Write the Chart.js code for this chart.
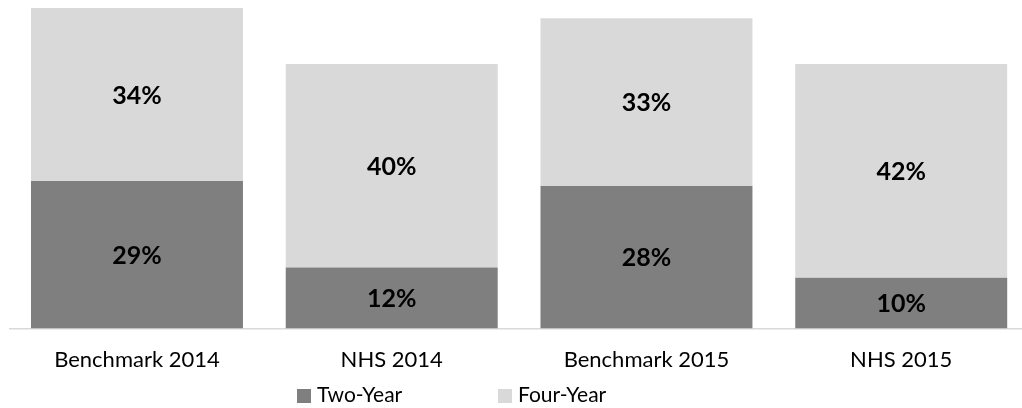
<!DOCTYPE html>
<html>
<head>
<meta charset="utf-8">
<script src="https://cdn.jsdelivr.net/npm/chart.js@4.4.1/dist/chart.umd.min.js"></script>
<style>
  html, body { margin: 0; padding: 0; background: #fff; overflow: hidden; }
  #wrap { position: relative; width: 1030px; height: 408px; }
  #legend { position: absolute; top: 383px; left: 297px; font-family: Lato, sans-serif; font-size: 21px; color: #000; }
  #legend span.item { position: absolute; white-space: nowrap; line-height: 22px; }
  #legend i { display: inline-block; width: 14px; height: 14px; margin-right: 6px; vertical-align: -1px; }
</style>
</head>
<body>
<div id="wrap">
  <canvas id="shares"></canvas>
  <div id="legend"></div>
</div>
<script>
// categories and series (percent of students)
var groups = ["Benchmark 2014", "NHS 2014", "Benchmark 2015", "NHS 2015"];
var twoYear = [29, 12, 28, 10];
var fourYear = [34, 40, 33, 42];
var seriesNames = ["Two-Year", "Four-Year"];
var seriesColors = ["#7f7f7f", "#d9d9d9"];

// prints the value in the middle of each bar segment
var segmentLabels = {
  id: "segmentLabels",
  afterDatasetsDraw: function(chart) {
    var ctx = chart.ctx;
    ctx.save();
    ctx.font = "bold 25px Lato, sans-serif";
    ctx.fillStyle = "#000";
    ctx.textAlign = "center";
    ctx.textBaseline = "middle";
    chart.data.datasets.forEach(function(ds, i) {
      chart.getDatasetMeta(i).data.forEach(function(bar, j) {
        var mid = (bar.y + bar.base) / 2;
        ctx.fillText(ds.data[j] + "%", bar.x, mid + 1);
      });
    });
    ctx.restore();
  }
};

var ctx = document.getElementById("shares");
var myChart = new Chart(ctx, {
  type: "bar",
  data: {
    labels: groups,
    datasets: [
      { label: seriesNames[0], data: twoYear, backgroundColor: seriesColors[0] },
      { label: seriesNames[1], data: fourYear, backgroundColor: seriesColors[1] }
    ]
  },
  options: {
    responsive: true,
    maintainAspectRatio: false,
    animation: false,
    datasets: { bar: { barPercentage: 1, categoryPercentage: 0.832 } },
    layout: { padding: { left: 9.6, right: 1.4, top: 8, bottom: 0 } },
    plugins: {
      legend: { display: false },
      tooltip: { enabled: false }
    },
    scales: {
      x: {
        stacked: true,
        grid: { display: false, drawTicks: false },
        border: { display: true, color: "#d9d9d9", width: 1.5 },
        ticks: { color: "#000", padding: 18, font: { family: "Lato", size: 22 } },
        afterFit: function(scale) { scale.height = 79.5; }
      },
      y: {
        stacked: true,
        display: false,
        min: 0,
        max: 63
      }
    }
  },
  plugins: [segmentLabels]
});

// legend row under the axis
var legend = document.getElementById("legend");
var offsets = [0, 201];
seriesNames.forEach(function(name, i) {
  var item = document.createElement("span");
  item.className = "item";
  item.style.left = offsets[i] + "px";
  item.innerHTML = '<i style="background:' + seriesColors[i] + '"></i>' + name;
  legend.appendChild(item);
});
</script>
</body>
</html>
